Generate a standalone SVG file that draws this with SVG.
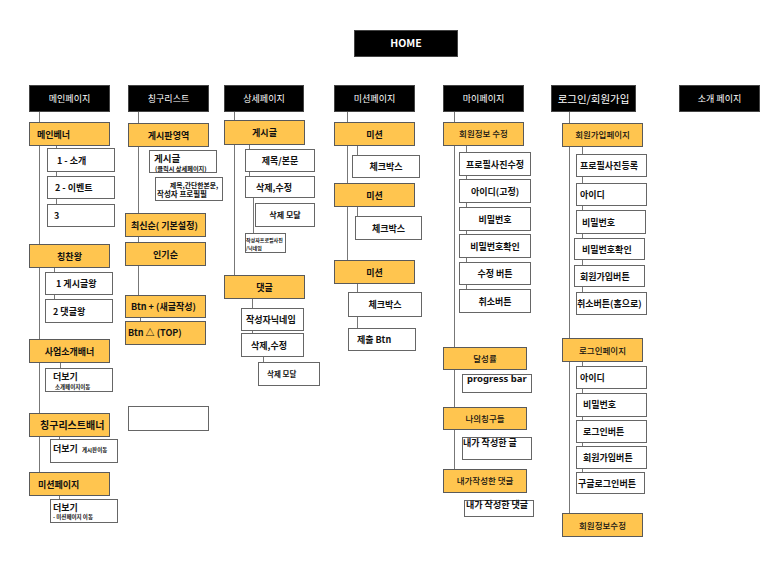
<svg xmlns="http://www.w3.org/2000/svg" width="778" height="562" viewBox="0 0 778 562">
<style>
.bg{fill:#fff}
.hd{fill:#000;stroke:#444;stroke-width:1}
.ht{font-family:"Noto Sans CJK KR","Noto Sans",sans-serif;font-size:9px;fill:#fff;text-anchor:middle}
.or{fill:#FFC54F;stroke:#5a5a5a;stroke-width:1}
.wb{fill:#fff;stroke:#666;stroke-width:1}
.t{font-family:"Noto Sans CJK KR","Noto Sans",sans-serif;font-weight:700;font-size:9px;fill:#111}
.m{font-weight:500;font-size:8.5px}
.c{text-anchor:middle}
.s{font-size:5.5px}
.ln{stroke:#777;stroke-width:1;fill:none}
</style>
<rect class="bg" x="0" y="0" width="778" height="562"/>
<g id="connectors">
<path class="ln" d="M39.5,112V472M56.5,146V204M54.5,268V299M60.5,363V368M59.5,437V439M59.5,496V499"/>
<path class="ln" d="M138.5,112V295M140.5,318V321"/>
<path class="ln" d="M234.5,112V275M249.5,145V176M253.5,198V233M252.5,299V333M263.5,357V362"/>
<path class="ln" d="M347.5,112V260M357.5,146V155M357.5,207V216M357.5,284V292M357.5,317V328"/>
<path class="ln" d="M454.5,112V469M466.5,146V289"/>
<path class="ln" d="M569.5,112V513M582.5,147V292M582.5,362V472"/>
</g>
<g id="home"><rect class="hd" x="354.5" y="30.5" width="103" height="26"/><text class="ht" x="406" y="47" style="font-weight:700;font-size:10.5px">HOME</text></g>
<!-- column 1 -->
<g id="hd-main"><rect class="hd" x="29.5" y="85.5" width="80" height="26"/><text class="ht" x="69.5" y="102">메인페이지</text></g>
<g id="main-banner"><rect class="or" x="29.5" y="122.5" width="80" height="23"/><text class="t" x="37" y="137.5">메인베너</text></g>
<g id="m1"><rect class="wb" x="47.5" y="148.5" width="67" height="23"/><text class="t" x="57" y="163.5">1 - 소개</text></g>
<g id="m2"><rect class="wb" x="47.5" y="176.5" width="67" height="22"/><text class="t" x="55" y="191">2 - 이벤트</text></g>
<g id="m3"><rect class="wb" x="47.5" y="204.5" width="67" height="22"/><text class="t" x="54" y="219">3</text></g>
<g id="praise"><rect class="or" x="29.5" y="244.5" width="80" height="23"/><text class="t c" x="69.5" y="259.5">칭찬왕</text></g>
<g id="p1"><rect class="wb" x="45.5" y="272.5" width="67" height="22"/><text class="t" x="56" y="287">1 게시글왕</text></g>
<g id="p2"><rect class="wb" x="45.5" y="299.5" width="67" height="23"/><text class="t" x="53" y="314.5">2 댓글왕</text></g>
<g id="biz-banner"><rect class="or" x="29.5" y="339.5" width="80" height="23"/><text class="t c" x="69.5" y="354.5">사업소개배너</text></g>
<g id="biz-more"><rect class="wb" x="45.5" y="368.5" width="67" height="23"/><text class="t" x="53" y="380">더보기</text><text class="t s" x="55" y="388.5">소개페이지이동</text></g>
<g id="friend-banner"><rect class="or" x="29.5" y="413.5" width="80" height="23"/><text class="t" x="40" y="429" style="font-size:10px">칭구리스트배너</text></g>
<g id="friend-more"><rect class="wb" x="50.5" y="439.5" width="67" height="23"/><text class="t" x="53" y="452">더보기</text><text class="t s" x="82" y="451.5">게시판이동</text></g>
<g id="mission-banner"><rect class="or" x="29.5" y="472.5" width="80" height="23"/><text class="t" x="38" y="487.5">미션페이지</text></g>
<g id="mission-more"><rect class="wb" x="50.5" y="499.5" width="67" height="23"/><text class="t" x="53" y="510.5">더보기</text><text class="t s" x="53" y="518.5">- 미션페이지 이동</text></g>
<!-- column 2 -->
<g id="hd-friends"><rect class="hd" x="128.5" y="85.5" width="80" height="26"/><text class="ht" x="168.5" y="102">칭구리스트</text></g>
<g id="board"><rect class="or" x="128.5" y="123.5" width="80" height="23"/><text class="t c" x="168.5" y="138.5">게시판영역</text></g>
<g id="post"><rect class="wb" x="149.5" y="150.5" width="67" height="22"/><text class="t" x="154" y="161.5" style="font-size:9.5px">게시글</text><text class="t" x="155" y="170.5" style="font-size:6.2px">(클릭시 상세페이지)</text></g>
<g id="post-info"><rect class="wb" x="155.5" y="177.5" width="67" height="23"/><text class="t" x="170" y="187.5" style="font-size:6.8px">제목,간단한본문,</text><text class="t" x="157" y="197" style="font-size:7.5px">작성자 프로필필</text></g>
<g id="latest"><rect class="or" x="125.5" y="213.5" width="80" height="23"/><text class="t" x="131" y="228.5">최신순( 기본설정)</text></g>
<g id="popular"><rect class="or" x="125.5" y="242.5" width="80" height="23"/><text class="t c" x="165.5" y="257.5">인기순</text></g>
<g id="btn-new"><rect class="or" x="125.5" y="295.5" width="80" height="22"/><text class="t" x="131" y="310">Btn + (새글작성)</text></g>
<g id="btn-top"><rect class="or" x="125.5" y="321.5" width="80" height="23"/><text class="t" x="128" y="336">Btn △ (TOP)</text></g>
<g id="empty-box"><rect class="wb" x="128.5" y="406.5" width="80" height="24"/></g>
<!-- column 3 -->
<g id="hd-detail"><rect class="hd" x="224.5" y="85.5" width="79" height="26"/><text class="ht" x="264" y="102">상세페이지</text></g>
<g id="detail-post"><rect class="or" x="224.5" y="120.5" width="80" height="24"/><text class="t c" x="264.5" y="136">게시글</text></g>
<g id="title-body"><rect class="wb" x="245.5" y="149.5" width="69" height="22"/><text class="t c" x="280" y="164">제목/본문</text></g>
<g id="edit1"><rect class="wb" x="245.5" y="176.5" width="69" height="21"/><text class="t" x="256" y="190.5">삭제,수정</text></g>
<g id="modal1"><rect class="wb" x="255.5" y="203.5" width="59" height="23"/><text class="t c" x="285" y="218" style="font-size:8px">삭제 모달</text></g>
<g id="author"><rect class="wb" x="245.5" y="233.5" width="40" height="19"/><text class="t" x="246" y="241.5" style="font-size:5px">작성자프로필사진</text><text class="t" x="246" y="250" style="font-size:5px">/닉네임</text></g>
<g id="comment"><rect class="or" x="224.5" y="275.5" width="80" height="23"/><text class="t c" x="264.5" y="290.5">댓글</text></g>
<g id="nick"><rect class="wb" x="241.5" y="308.5" width="62" height="22"/><text class="t" x="246" y="323">작성자닉네임</text></g>
<g id="edit2"><rect class="wb" x="241.5" y="333.5" width="62" height="23"/><text class="t" x="251" y="348.5">삭제,수정</text></g>
<g id="modal2"><rect class="wb" x="258.5" y="362.5" width="61" height="23"/><text class="t" x="267" y="377" style="font-size:7.5px">삭제 모달</text></g>
<!-- column 4 -->
<g id="hd-mission"><rect class="hd" x="334.5" y="85.5" width="80" height="26"/><text class="ht" x="374.5" y="102">미션페이지</text></g>
<g id="ms1"><rect class="or" x="334.5" y="122.5" width="80" height="23"/><text class="t c" x="374.5" y="137.5">미션</text></g>
<g id="cb1"><rect class="wb" x="352.5" y="155.5" width="67" height="22"/><text class="t c" x="386" y="169.5">체크박스</text></g>
<g id="ms2"><rect class="or" x="334.5" y="183.5" width="80" height="23"/><text class="t c" x="374.5" y="198.5">미션</text></g>
<g id="cb2"><rect class="wb" x="355.5" y="216.5" width="66" height="23"/><text class="t c" x="388.5" y="231.5">체크박스</text></g>
<g id="ms3"><rect class="or" x="334.5" y="260.5" width="80" height="23"/><text class="t c" x="374.5" y="275.5">미션</text></g>
<g id="cb3"><rect class="wb" x="348.5" y="292.5" width="73" height="24"/><text class="t c" x="385" y="307.5">체크박스</text></g>
<g id="submit"><rect class="wb" x="348.5" y="328.5" width="67" height="22"/><text class="t" x="357" y="343">제출 Btn</text></g>
<!-- column 5 -->
<g id="hd-my"><rect class="hd" x="443.5" y="85.5" width="80" height="26"/><text class="ht" x="483.5" y="102">마이페이지</text></g>
<g id="my-edit"><rect class="or" x="443.5" y="122.5" width="80" height="23"/><text class="t m c" x="483.5" y="137">회원정보 수정</text></g>
<g id="my-photo"><rect class="wb" x="459.5" y="152.5" width="71" height="23"/><text class="t c" x="495" y="167.5">프로필사진수정</text></g>
<g id="my-id"><rect class="wb" x="459.5" y="179.5" width="71" height="23"/><text class="t c" x="495" y="194.5">아이디(고정)</text></g>
<g id="my-pw"><rect class="wb" x="459.5" y="207.5" width="71" height="23"/><text class="t c" x="495" y="222.5">비밀번호</text></g>
<g id="my-pw2"><rect class="wb" x="459.5" y="234.5" width="71" height="23"/><text class="t c" x="495" y="249.5">비밀번호확인</text></g>
<g id="my-save"><rect class="wb" x="459.5" y="262.5" width="71" height="22"/><text class="t c" x="495" y="276.5">수정 버튼</text></g>
<g id="my-cancel"><rect class="wb" x="459.5" y="289.5" width="71" height="23"/><text class="t c" x="495" y="304.5">취소버튼</text></g>
<g id="achieve"><rect class="or" x="443.5" y="347.5" width="83" height="22"/><text class="t m c" x="485" y="361.5">달성률</text></g>
<g id="progress"><rect class="wb" x="462.5" y="374.5" width="69" height="18"/><text class="t" x="467" y="382" style="font-size:9.5px;font-family:'Noto Sans',sans-serif">progress bar</text></g>
<g id="friends"><rect class="or" x="443.5" y="407.5" width="83" height="22"/><text class="t m c" x="485" y="421.5">나의칭구들</text></g>
<g id="my-posts"><rect class="wb" x="462.5" y="437.5" width="69" height="22"/><text class="t" x="463" y="445.5">내가 작성한 글</text></g>
<g id="my-comments"><rect class="or" x="443.5" y="469.5" width="83" height="23"/><text class="t m c" x="485" y="484">내가작성한 댓글</text></g>
<g id="my-comments-box"><rect class="wb" x="464.5" y="500.5" width="69" height="16"/><text class="t" x="466" y="508">내가 작성한 댓글</text></g>
<!-- column 6 -->
<g id="hd-login"><rect class="hd" x="551.5" y="85.5" width="84" height="26"/><text class="ht" x="593.5" y="102.5" style="font-size:10.5px">로그인/회원가입</text></g>
<g id="signup"><rect class="or" x="562.5" y="123.5" width="80" height="23"/><text class="t m c" x="602.5" y="138">회원가입페이지</text></g>
<g id="su-photo"><rect class="wb" x="576.5" y="154.5" width="70" height="22"/><text class="t" x="580" y="169">프로필사진등록</text></g>
<g id="su-id"><rect class="wb" x="576.5" y="183.5" width="70" height="22"/><text class="t" x="580" y="198">아이디</text></g>
<g id="su-pw"><rect class="wb" x="576.5" y="210.5" width="69" height="23"/><text class="t" x="582" y="225.5">비밀번호</text></g>
<g id="su-pw2"><rect class="wb" x="574.5" y="238.5" width="70" height="21"/><text class="t" x="582" y="252.5">비밀번호확인</text></g>
<g id="su-btn"><rect class="wb" x="574.5" y="265.5" width="70" height="21"/><text class="t" x="580" y="279.5">회원가입버튼</text></g>
<g id="su-cancel"><rect class="wb" x="576.5" y="292.5" width="70" height="22"/><text class="t" x="577" y="307">취소버튼(홈으로)</text></g>
<g id="login"><rect class="or" x="562.5" y="338.5" width="80" height="23"/><text class="t m c" x="602.5" y="353.5">로그인페이지</text></g>
<g id="li-id"><rect class="wb" x="576.5" y="366.5" width="70" height="22"/><text class="t" x="580" y="381">아이디</text></g>
<g id="li-pw"><rect class="wb" x="576.5" y="393.5" width="70" height="23"/><text class="t" x="583" y="408">비밀번호</text></g>
<g id="li-btn"><rect class="wb" x="576.5" y="420.5" width="70" height="22"/><text class="t" x="583" y="435">로그인버튼</text></g>
<g id="li-signup"><rect class="wb" x="576.5" y="446.5" width="70" height="22"/><text class="t" x="583" y="461">회원가입버튼</text></g>
<g id="li-google"><rect class="wb" x="576.5" y="472.5" width="68" height="21"/><text class="t" x="578" y="486.5">구글로그인버튼</text></g>
<g id="info-edit"><rect class="or" x="562.5" y="513.5" width="80" height="23"/><text class="t m c" x="602.5" y="528.5">회원정보수정</text></g>
<!-- column 7 -->
<g id="hd-intro"><rect class="hd" x="679.5" y="85.5" width="80" height="26"/><text class="ht" x="719.5" y="102">소개 페이지</text></g>
</svg>
